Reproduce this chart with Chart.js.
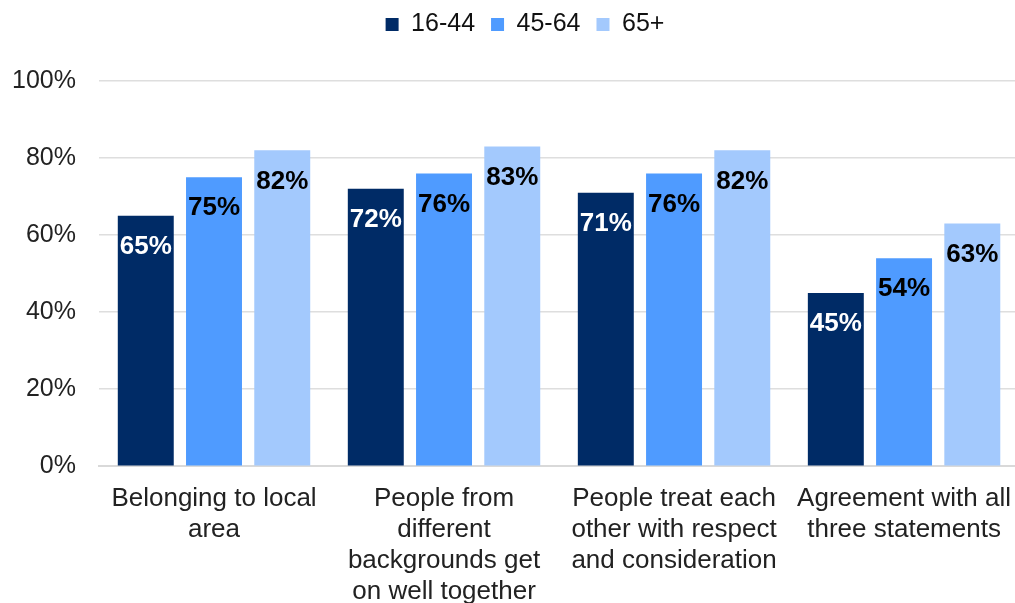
<!DOCTYPE html>
<html>
<head>
<meta charset="utf-8">
<script src="https://cdn.jsdelivr.net/npm/chart.js@4/dist/chart.umd.min.js"></script>
<style>
  html, body { margin: 0; padding: 0; background: #fff; overflow: hidden; }
  #wrap { position: relative; width: 1028px; height: 624px; }
</style>
</head>
<body>
<div id="wrap"><canvas id="chart"></canvas></div>
<script>
// Survey statements (multi-line axis labels)
const categories = [
  ['Belonging to local', 'area'],
  ['People from', 'different', 'backgrounds get', 'on well together'],
  ['People treat each', 'other with respect', 'and consideration'],
  ['Agreement with all', 'three statements']
];

// Age groups
const seriesNames = ['16-44', '45-64', '65+'];

// Percent agreeing, by age group
const age16to44 = [65, 72, 71, 45];
const age45to64 = [75, 76, 76, 54];
const age65plus = [82, 83, 82, 63];

const seriesColors = ['#002B66', '#4F9BFF', '#A3C9FD'];
const labelColors = ['#ffffff', '#000000', '#000000'];

const FONT = "'Liberation Sans', Arial, Helvetica, sans-serif";

// Writes each bar's value just below its top edge
const valueLabels = {
  id: 'valueLabels',
  afterDatasetsDraw(chart) {
    const ctx = chart.ctx;
    ctx.save();
    ctx.font = 'bold 26px ' + FONT;
    ctx.textAlign = 'center';
    ctx.textBaseline = 'middle';
    chart.data.datasets.forEach((ds, i) => {
      const meta = chart.getDatasetMeta(i);
      meta.data.forEach((bar, j) => {
        ctx.fillStyle = labelColors[i];
        ctx.fillText(ds.data[j] + '%', bar.x, bar.y + 31);
      });
    });
    ctx.restore();
  }
};

// Extra space below the legend, and a small nudge of the legend itself
const legendGap = {
  id: 'legendGap',
  beforeInit(chart) {
    const legend = chart.legend;
    const origFit = legend.fit;
    legend.fit = function () {
      origFit.call(this);
      this.height += 30;
    };
    const origDraw = legend.draw;
    legend.draw = function () {
      const c = this.ctx;
      c.save();
      c.translate(6, -4);
      origDraw.call(this);
      c.restore();
    };
  }
};

new Chart(document.getElementById('chart'), {
  type: 'bar',
  data: {
    labels: categories,
    datasets: [
      { label: seriesNames[0], data: age16to44, backgroundColor: seriesColors[0] },
      { label: seriesNames[1], data: age45to64, backgroundColor: seriesColors[1] },
      { label: seriesNames[2], data: age65plus, backgroundColor: seriesColors[2] }
    ]
  },
  options: {
    responsive: true,
    maintainAspectRatio: false,
    animation: false,
    layout: { padding: { left: 10, right: 0, top: 0, bottom: 0 } },
    datasets: {
      bar: { categoryPercentage: 0.89, barPercentage: 0.82 }
    },
    plugins: {
      legend: {
        position: 'top',
        labels: {
          font: { family: FONT, size: 25 },
          color: '#111',
          boxWidth: 13,
          boxHeight: 13,
          padding: 16
        }
      },
      tooltip: { enabled: false }
    },
    scales: {
      x: {
        grid: { display: false, drawTicks: false },
        border: { display: true, color: '#d9d9d9', width: 2 },
        ticks: {
          font: { family: FONT, size: 26, lineHeight: 1.19 },
          color: '#222',
          padding: 17,
          maxRotation: 0,
          autoSkip: false
        }
      },
      y: {
        min: 0,
        max: 100,
        afterFit(scale) { scale.width = 89; },
        grid: { color: '#dedede', lineWidth: 1.5, drawTicks: false },
        border: { display: false },
        ticks: {
          stepSize: 20,
          font: { family: FONT, size: 25 },
          color: '#222',
          padding: 23,
          callback: v => v + '%'
        }
      }
    }
  },
  plugins: [valueLabels, legendGap]
});
</script>
</body>
</html>
